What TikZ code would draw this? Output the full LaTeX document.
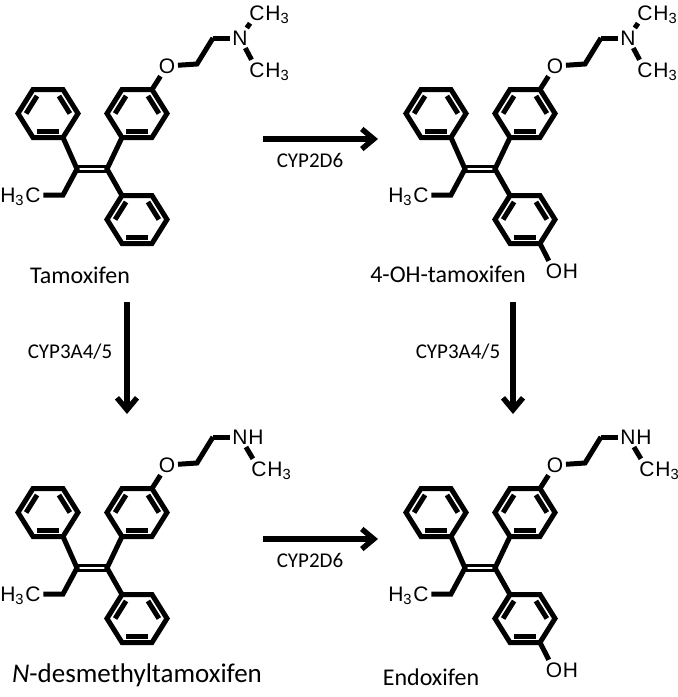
\documentclass[tikz,border=0pt]{standalone}
\usepackage{fontspec}
\setmainfont{Carlito}
\newfontfamily\atomfont{Liberation Sans}
\usetikzlibrary{calc,arrows.meta}

\tikzset{
  bond/.style={line width=2.5pt},
  dbond/.style={line width=1.4pt, double distance=1.2pt},
  atom/.style={font=\atomfont\fontsize{10.5}{12}\selectfont, inner sep=1.2pt},
  sub/.style={atom, inner xsep=0pt},
  drug/.style={font=\fontsize{12}{14}\selectfont},
  enzyme/.style={font=\fontsize{10.5}{12}\selectfont},
  reaction/.style={line width=2.7pt, -{Straight Barb[length=6pt,width=10pt]}}
}

% benzene ring: name, centre
\newcommand\benzene[2]{%
  \coordinate (#1) at (#2);
  \path (#1) ++(30,0) coordinate (#1-0)
        (#1) ++(15,24) coordinate (#1-1)
        (#1) ++(-15,24) coordinate (#1-2)
        (#1) ++(-30,0) coordinate (#1-3)
        (#1) ++(-15,-24) coordinate (#1-4)
        (#1) ++(15,-24) coordinate (#1-5);
  \draw[bond] (#1-0) -- (#1-1) -- (#1-2) -- (#1-3) -- (#1-4) -- (#1-5) -- cycle;
  \foreach \i/\j in {3/4,5/0,1/2}
    \draw[bond] ($(#1-\i)!0.27!(#1)$) -- ($(#1-\j)!0.27!(#1)$);
}

% triphenylethylene core with the ether chain: prefix, shift, extras
\newcommand\skeleton[4]{%
  \begin{scope}[shift={(#2,#3)}]
    \benzene{#1L}{48,113.5}
    \benzene{#1U}{137,113.5}
    \benzene{#1B}{137,219.5}
    \coordinate (#1c1) at (77,169);
    \coordinate (#1c2) at (107,169);
    \coordinate (#1et) at (63,195);
    \coordinate (#1a1) at (197,64);
    \coordinate (#1a2) at (213,38);
    \node[atom] (#1me) at (33,195) {C};
    \node[sub, anchor=base east, xshift=1.2pt] at (#1me.base west) {H\textsubscript{3}};
    \node[atom] (#1o) at (167,66) {O};
    \draw[dbond] (#1c1) -- (#1c2);
    \draw[bond] (#1L-1) -- (#1c1) -- (#1et) -- (#1me);
    \draw[bond] (#1U-2) -- (#1c2) -- (#1B-4);
    \draw[bond] (#1U-5) -- (#1o) -- (#1a1) -- (#1a2);
    #4
  \end{scope}}

\newcommand\dimethyl[1]{%
  \node[atom] (#1n) at (240,38) {N};
  \node[atom] (#1m1) at (257,13) {C};
  \node[sub, anchor=base west, xshift=-1.2pt] at (#1m1.base east) {H\textsubscript{3}};
  \node[atom] (#1m2) at (257,70) {C};
  \node[sub, anchor=base west, xshift=-1.2pt] at (#1m2.base east) {H\textsubscript{3}};
  \draw[bond] (#1a2) -- (#1n);
  \draw[bond] (#1n) -- (#1m1);
  \draw[bond] (#1n) -- (#1m2);}

\newcommand\methylamino[1]{%
  \node[atom] (#1n) at (240,38) {N};
  \node[sub, anchor=base west, xshift=-1.2pt] at (#1n.base east) {H};
  \node[atom] (#1m2) at (259,70) {C};
  \node[sub, anchor=base west, xshift=-1.2pt] at (#1m2.base east) {H\textsubscript{3}};
  \draw[bond] (#1a2) -- (#1n);
  \draw[bond] (#1n) -- (#1m2);}

\newcommand\hydroxy[1]{%
  \node[atom] (#1oh) at (166,271) {O};
  \node[sub, anchor=base west, xshift=-1.2pt] at (#1oh.base east) {H};
  \draw[bond] (#1B-1) -- (#1oh);}

\begin{document}
\begin{tikzpicture}[x=0.5pt, y=-0.5pt]
  \useasboundingbox (0,0) rectangle (678,697);

  \skeleton{t}{0}{0}{\dimethyl{t}}
  \skeleton{h}{388}{0}{\dimethyl{h}\hydroxy{h}}
  \skeleton{d}{0}{399}{\methylamino{d}}
  \skeleton{e}{388}{399}{\methylamino{e}\hydroxy{e}}

  % names
  \node[drug] (tam) at (80,275) {Tamoxifen};
  \node[drug] (hyd) at (448,274) {4-OH-tamoxifen};
  \node[drug, font=\fontsize{13.5}{15}\selectfont] (des) at (137,675) {\textit{N}-desmethyltamoxifen};
  \node[drug] (endo) at (431,677) {Endoxifen};

  % metabolic steps
  \coordinate (s1a) at (263,139);  \coordinate (s1b) at (378,139);
  \coordinate (s2a) at (263,539);  \coordinate (s2b) at (378,539);
  \coordinate (s3a) at (127,302);  \coordinate (s3b) at (127,414);
  \coordinate (s4a) at (513,302);  \coordinate (s4b) at (513,414);
  \draw[reaction] (s1a) -- (s1b);
  \draw[reaction] (s2a) -- (s2b);
  \draw[reaction] (s3a) -- (s3b);
  \draw[reaction] (s4a) -- (s4b);
  \node[enzyme] (cyp1) at (310,160) {CYP2D6};
  \node[enzyme] (cyp2) at (310,560) {CYP2D6};
  \node[enzyme] (cyp3) at (70,352) {CYP3A4/5};
  \node[enzyme] (cyp4) at (458,352) {CYP3A4/5};
\end{tikzpicture}
\end{document}
